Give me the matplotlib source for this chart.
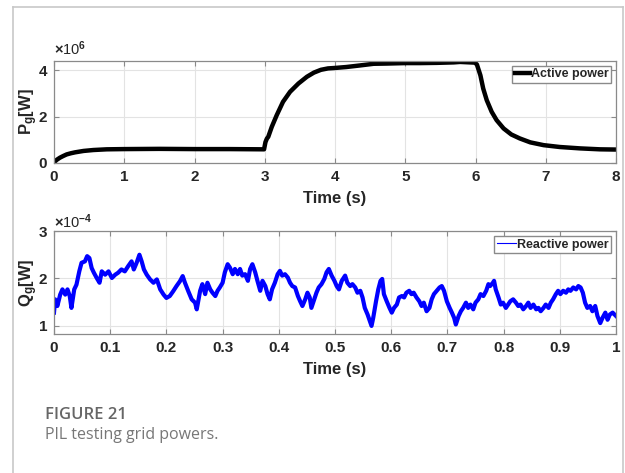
import matplotlib
matplotlib.use("Agg")
import matplotlib.pyplot as plt
from matplotlib.lines import Line2D

# ---- data ----
# active power, in units of 1e6 W
t_p = [0.0, 0.04, 0.085, 0.13, 0.18, 0.24, 0.30, 0.36, 0.42, 0.56, 0.75, 1.0, 1.5, 2.0,
       2.5, 2.99, 3.01, 3.03, 3.05, 3.10, 3.17, 3.26, 3.36, 3.48, 3.60, 3.70, 3.80, 3.90,
       4.0, 4.16, 4.36, 4.55, 4.74, 5.0, 5.21, 5.45, 5.69, 5.78, 5.99,
       6.02, 6.07, 6.11, 6.16, 6.23, 6.30, 6.40, 6.51, 6.63, 6.78, 6.97, 7.20,
       7.49, 7.77, 8.0]
p_active = [0.03, 0.14, 0.23, 0.30, 0.37, 0.42, 0.46, 0.49, 0.52, 0.56, 0.59, 0.60, 0.61, 0.60,
            0.60, 0.59, 0.90, 1.05, 1.13, 1.56, 2.06, 2.64, 3.07, 3.43, 3.72, 3.90, 4.02, 4.08,
            4.10, 4.14, 4.21, 4.28, 4.29, 4.31, 4.31, 4.32, 4.34, 4.36, 4.33,
            4.25, 3.78, 3.21, 2.71, 2.21, 1.85, 1.49, 1.23, 1.06, 0.89, 0.77, 0.69,
            0.63, 0.59, 0.58]

# reactive power, in units of 1e-4 W
t_q = [0.000, 0.002, 0.006, 0.011, 0.015, 0.020, 0.024, 0.028, 0.031, 0.036,
       0.040, 0.045, 0.049, 0.055, 0.059, 0.063, 0.067, 0.071, 0.076, 0.081,
       0.085, 0.091, 0.097, 0.103, 0.109, 0.114, 0.120, 0.126, 0.132, 0.138,
       0.142, 0.147, 0.152, 0.156, 0.160, 0.165, 0.171, 0.177, 0.183, 0.189,
       0.195, 0.200, 0.206, 0.212, 0.218, 0.224, 0.229, 0.233, 0.239, 0.245,
       0.251, 0.254, 0.260, 0.264, 0.269, 0.273, 0.278, 0.282, 0.287, 0.291,
       0.295, 0.300, 0.304, 0.309, 0.313, 0.318, 0.322, 0.327, 0.331, 0.335,
       0.340, 0.345, 0.349, 0.353, 0.358, 0.362, 0.367, 0.371, 0.376, 0.380,
       0.384, 0.388, 0.393, 0.398, 0.402, 0.406, 0.411, 0.416, 0.420, 0.424,
       0.429, 0.434, 0.438, 0.442, 0.447, 0.451, 0.455, 0.458, 0.463, 0.467,
       0.471, 0.476, 0.481, 0.485, 0.489, 0.494, 0.499, 0.503, 0.507, 0.512,
       0.518, 0.522, 0.527, 0.531, 0.536, 0.540, 0.545, 0.549, 0.553, 0.558,
       0.562, 0.565, 0.568, 0.573, 0.577, 0.581, 0.584, 0.587, 0.592, 0.597,
       0.601, 0.605, 0.610, 0.614, 0.619, 0.623, 0.627, 0.632, 0.636, 0.640,
       0.645, 0.650, 0.654, 0.658, 0.663, 0.668, 0.672, 0.676, 0.681, 0.686,
       0.690, 0.694, 0.699, 0.704, 0.708, 0.712, 0.715, 0.720, 0.724, 0.728,
       0.733, 0.737, 0.741, 0.746, 0.750, 0.755, 0.759, 0.764, 0.769, 0.773,
       0.776, 0.781, 0.783, 0.786, 0.791, 0.795, 0.799, 0.804, 0.808, 0.812,
       0.817, 0.822, 0.826, 0.830, 0.835, 0.840, 0.844, 0.848, 0.853, 0.858,
       0.862, 0.866, 0.871, 0.875, 0.880, 0.884, 0.888, 0.893, 0.897, 0.901,
       0.906, 0.911, 0.915, 0.919, 0.924, 0.929, 0.933, 0.937, 0.941, 0.945,
       0.949, 0.954, 0.958, 0.963, 0.967, 0.972, 0.976, 0.981, 0.985, 0.989,
       0.994, 1.000]
q_reactive = [1.28, 1.56, 1.42, 1.66, 1.77, 1.66, 1.77, 1.63, 1.38, 1.77,
              1.87, 2.15, 2.33, 2.36, 2.47, 2.43, 2.22, 2.12, 2.01, 1.91,
              2.15, 2.08, 2.15, 2.01, 2.08, 2.12, 2.19, 2.15, 2.26, 2.36,
              2.19, 2.33, 2.50, 2.36, 2.19, 2.08, 1.98, 1.91, 1.98, 1.77,
              1.66, 1.59, 1.63, 1.73, 1.84, 1.94, 2.05, 1.91, 1.73, 1.56,
              1.49, 1.35, 1.74, 1.88, 1.67, 1.91, 1.77, 1.70, 1.63, 1.74,
              1.81, 1.91, 2.13, 2.30, 2.23, 2.09, 2.20, 2.09, 2.20, 2.06,
              2.09, 1.95, 2.20, 2.30, 2.13, 1.95, 1.74, 1.95, 1.84, 1.67,
              1.56, 1.77, 1.91, 2.09, 2.16, 2.06, 2.09, 2.02, 1.91, 1.84,
              1.81, 1.63, 1.52, 1.42, 1.56, 1.70, 1.60, 1.38, 1.56, 1.70,
              1.81, 1.88, 1.99, 2.13, 2.20, 2.06, 1.95, 1.84, 1.77, 1.95,
              2.06, 1.91, 1.84, 1.88, 1.81, 1.70, 1.74, 1.60, 1.38, 1.24,
              1.10, 1.00, 1.17, 1.52, 1.77, 1.95, 1.99, 1.67, 1.52, 1.38,
              1.28, 1.38, 1.45, 1.60, 1.63, 1.60, 1.70, 1.74, 1.67, 1.70,
              1.60, 1.52, 1.42, 1.49, 1.31, 1.38, 1.56, 1.67, 1.74, 1.81,
              1.84, 1.74, 1.52, 1.38, 1.28, 1.17, 1.03, 1.21, 1.31, 1.38,
              1.49, 1.38, 1.45, 1.35, 1.49, 1.56, 1.67, 1.63, 1.74, 1.88,
              1.84, 1.91, 1.95, 1.77, 1.60, 1.45, 1.49, 1.38, 1.45, 1.52,
              1.56, 1.49, 1.42, 1.45, 1.35, 1.42, 1.49, 1.38, 1.45, 1.35,
              1.38, 1.31, 1.38, 1.45, 1.38, 1.49, 1.56, 1.67, 1.74, 1.67,
              1.74, 1.70, 1.77, 1.74, 1.81, 1.77, 1.84, 1.81, 1.70, 1.49,
              1.38, 1.42, 1.31, 1.42, 1.21, 1.06, 1.17, 1.28, 1.13, 1.24,
              1.28, 1.21]

p_ticks = [0, 2, 4]
q_ticks = [1, 2, 3]
q_xticks = [0, 0.1, 0.2, 0.3, 0.4, 0.5, 0.6, 0.7, 0.8, 0.9, 1]
q_xlabels = ['0', '0.1', '0.2', '0.3', '0.4', '0.5', '0.6', '0.7', '0.8', '0.9', '1']

plt.rcParams['font.family'] = ['Liberation Sans', 'DejaVu Sans']
plt.rcParams['mathtext.fontset'] = 'custom'
plt.rcParams['mathtext.rm'] = 'Liberation Sans:bold'
plt.rcParams['mathtext.bf'] = 'Liberation Sans:bold'
plt.rcParams['mathtext.default'] = 'bf'

FRAME = '#8a8a8a'
GRID = '#e3e3e3'
TXT = '#262626'
CARD = '#c8c8c8'

fig = plt.figure(figsize=(6.25, 4.73), dpi=100)

# card border (left, top, right)
xl, xr, yt = 12.5 / 625, 623 / 625, 1 - 7 / 473
for xs, ys in [([xl, xl], [0, yt]), ([xl, xr], [yt, yt]), ([xr, xr], [0, yt])]:
    fig.add_artist(Line2D(xs, ys, color=CARD, lw=1.2, transform=fig.transFigure))

ax1 = fig.add_axes([54/625, 1 - 163/473, 562/625, 102/473])
ax2 = fig.add_axes([54/625, 1 - 334/473, 562/625, 103/473])


def style(ax):
    ax.grid(True, color=GRID, lw=0.8)
    ax.set_axisbelow(True)
    for s in ax.spines.values():
        s.set_color(FRAME)
        s.set_linewidth(0.9)
    ax.tick_params(direction='in', length=3.5, width=0.8, color=FRAME,
                   top=True, right=True, labelsize=11, labelcolor=TXT, pad=5)
    for lab in ax.get_xticklabels() + ax.get_yticklabels():
        lab.set_fontweight('bold')


ax1.plot(t_p, p_active, color='black', lw=3.2, solid_capstyle='butt')
ax1.set_xlim(0, 8)
ax1.set_ylim(0, 4.4)
ax1.set_xticks(range(0, 9))
ax1.set_yticks(p_ticks)
style(ax1)
ax1.set_xlabel('Time (s)', fontsize=12, fontweight='bold', color=TXT, labelpad=5)
ax1.set_ylabel('P$_{g}$[W]', fontsize=12, fontweight='bold', color=TXT, labelpad=-1)
ax1.text(0.0, 1.03, r'$\times$10$^{6}$', transform=ax1.transAxes, fontsize=10.5,
         color=TXT, ha='left', va='bottom')
ax1.legend([Line2D([], [], color='black', lw=3.2)], ['Active power'], loc='upper right',
           prop={'weight': 'bold', 'size': 9}, fancybox=False, edgecolor=FRAME,
           framealpha=1, handlelength=1.2, handletextpad=0.1, borderpad=0.2,
           borderaxespad=0.4, labelcolor=TXT)

ax2.plot(t_q, q_reactive, color='#0000ff', lw=3.0)
ax2.set_xlim(0, 1)
ax2.set_ylim(0.83, 3)
ax2.set_xticks(q_xticks)
ax2.set_xticklabels(q_xlabels)
ax2.set_yticks(q_ticks)
style(ax2)
ax2.set_xlabel('Time (s)', fontsize=12, fontweight='bold', color=TXT, labelpad=5)
ax2.set_ylabel('Q$_{g}$[W]', fontsize=12, fontweight='bold', color=TXT, labelpad=-1)
ax2.text(0.0, 1.0, r'$\times$10$^{-4}$', transform=ax2.transAxes, fontsize=10.5,
         color=TXT, ha='left', va='bottom')
ax2.legend([Line2D([], [], color='#0000ff', lw=0.8)], ['Reactive power'], loc='upper right',
           prop={'weight': 'bold', 'size': 9}, fancybox=False, edgecolor=FRAME,
           framealpha=1, handlelength=1.5, handletextpad=0.1, borderpad=0.2,
           borderaxespad=0.4, labelcolor=TXT)

# caption
fig.text(45/625, 1 - 415/473, 'FIGURE 21', fontsize=12, fontweight='semibold',
         color='#666666', family='Open Sans', va='center', ha='left')
fig.text(45/625, 1 - 435/473, 'PIL testing grid powers.', fontsize=11.5,
         color='#777777', family='Open Sans', va='center', ha='left')

fig.savefig('out.png', dpi=100)
